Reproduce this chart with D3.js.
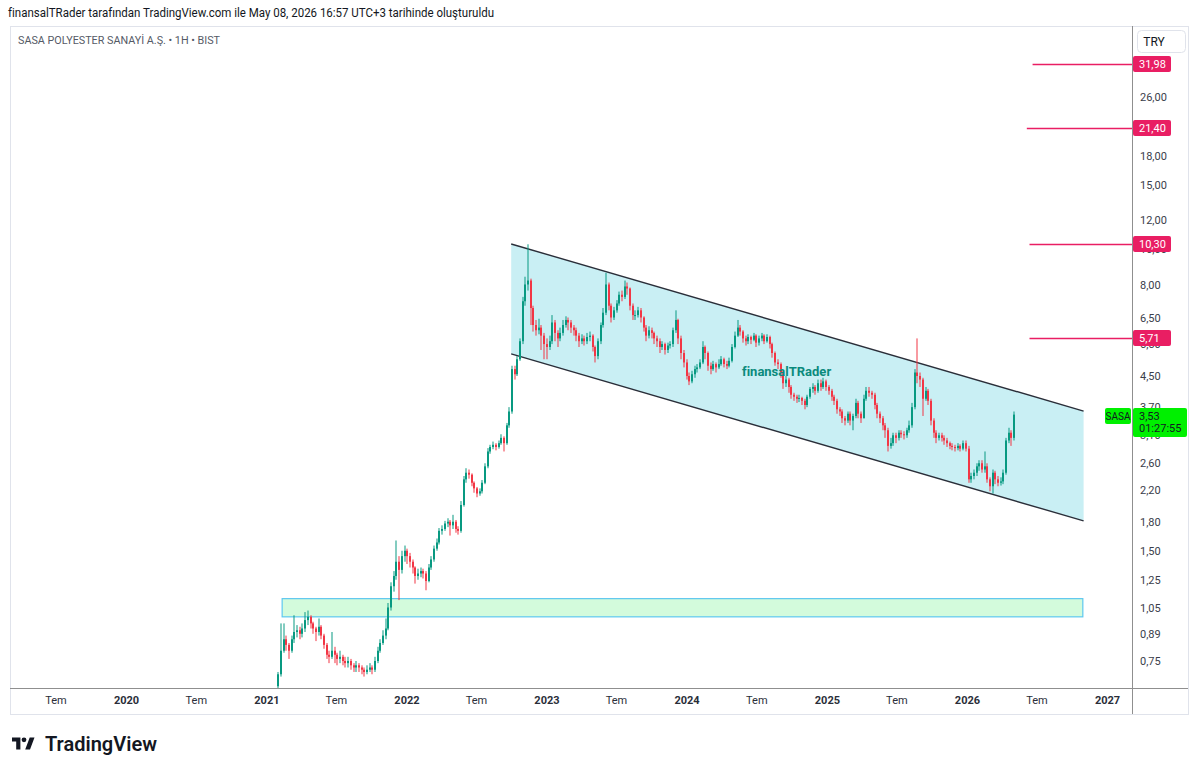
<!DOCTYPE html>
<html lang="tr">
<head>
<meta charset="UTF-8">
<title>SASA 1H BIST</title>
<script src="https://cdn.jsdelivr.net/npm/d3@7"></script>
<style>
  body { margin: 0; background: #fff; }
  svg text { font-family: Roboto, "Liberation Sans", sans-serif; }
</style>
</head>
<body>
<svg id="chart" width="1200" height="771"></svg>
<script>
// weekly candles, [close, high, low]; open = previous close
const firstOpen = 0.64;
const startDate = Date.UTC(2021, 1, 1);

const candles2021 = [
  [0.69,0.70,0.63],[0.80,0.95,0.68],[0.86,0.95,0.79],[0.83,0.88,0.80],[0.80,0.84,0.76],
  [0.86,0.88,0.79],[0.90,1.00,0.84],[0.91,0.94,0.87],[0.89,0.93,0.86],[0.92,0.95,0.87],
  [0.97,1.02,0.90],[0.99,1.03,0.94],[0.95,1.00,0.92],[0.92,0.96,0.89],[0.90,0.93,0.85],
  [0.93,0.98,0.88],[0.88,0.94,0.86],[0.83,0.89,0.81],[0.78,0.84,0.76],[0.77,0.80,0.74],
  [0.80,0.90,0.76],[0.78,0.82,0.74],[0.76,0.79,0.73],[0.77,0.80,0.74],[0.75,0.78,0.73],
  [0.74,0.77,0.72],[0.75,0.77,0.72],[0.73,0.76,0.71],[0.72,0.74,0.70],[0.73,0.75,0.70],
  [0.72,0.74,0.70],[0.71,0.73,0.69],[0.70,0.72,0.68],[0.71,0.73,0.69],[0.72,0.74,0.70],
  [0.71,0.73,0.69],[0.75,0.77,0.70],[0.80,0.82,0.74],[0.84,0.86,0.79],[0.88,0.91,0.83],
  [0.92,0.98,0.86],[1.05,1.08,0.91],[1.20,1.23,1.03],[1.28,1.32,1.16],[1.40,1.60,1.25],
  [1.33,1.45,1.10],[1.45,1.50,1.30],[1.50,1.55,1.40]
];
const candles2022 = [
  [1.45,1.52,1.38],[1.40,1.48,1.35],[1.35,1.42,1.30],[1.28,1.36,1.22],[1.30,1.34,1.25],
  [1.32,1.35,1.27],[1.30,1.34,1.26],[1.24,1.32,1.17],[1.35,1.38,1.23],[1.42,1.45,1.33],
  [1.52,1.55,1.40],[1.58,1.62,1.50],[1.70,1.73,1.56],[1.72,1.76,1.66],[1.78,1.81,1.70],
  [1.80,1.84,1.74],[1.76,1.82,1.65],[1.80,1.88,1.72],[1.72,1.82,1.68],[1.70,1.75,1.66],
  [2.00,2.05,1.68],[2.35,2.40,1.98],[2.45,2.52,2.30],[2.42,2.50,2.36],[2.30,2.44,2.25],
  [2.22,2.32,2.16],[2.15,2.24,2.10],[2.18,2.22,2.12],[2.30,2.34,2.15],[2.55,2.60,2.28],
  [2.80,2.86,2.52],[2.88,2.92,2.76],[2.92,2.98,2.84],[2.88,2.95,2.82],[2.95,3.00,2.85],
  [3.05,3.12,2.92],[2.95,3.08,2.80],[3.30,3.35,2.92],[3.60,3.70,3.25],[4.70,4.80,3.55],
  [4.55,4.80,4.40],[5.00,5.10,4.50],[5.60,5.70,4.95],[7.20,7.40,5.50],[8.00,8.40,7.00],
  [8.20,10.30,7.70],[6.90,8.30,6.20],[6.20,7.00,5.95],[6.00,6.40,5.80],[6.10,6.45,5.85],
  [5.80,6.20,5.30],[5.50,5.90,5.00]
];
const candles2023 = [
  [5.40,5.70,5.00],[5.60,5.80,5.30],[6.30,6.60,5.50],[5.90,6.40,5.60],[5.70,6.00,5.40],
  [5.90,6.10,5.60],[6.20,6.40,5.80],[6.40,6.55,6.10],[6.30,6.50,6.00],[6.10,6.40,5.90],
  [6.00,6.20,5.80],[5.80,6.10,5.60],[5.60,5.90,5.40],[5.70,5.85,5.50],[5.60,5.80,5.45],
  [5.75,5.90,5.50],[5.80,5.95,5.60],[5.40,5.85,5.25],[5.10,5.45,4.90],[5.60,5.70,5.00],
  [6.20,6.30,5.50],[6.70,6.90,6.10],[8.00,8.60,6.60],[7.00,8.10,6.80],[6.50,7.10,6.30],
  [6.80,6.95,6.40],[7.10,7.25,6.70],[7.50,7.65,7.00],[7.40,7.70,7.20],[7.90,8.20,7.30],
  [7.80,8.10,7.50],[7.00,7.85,6.80],[6.60,7.10,6.40],[6.60,6.80,6.40],[6.80,6.95,6.50],
  [6.50,6.90,6.30],[6.10,6.55,5.95],[5.80,6.20,5.60],[6.00,6.15,5.70],[5.90,6.10,5.70],
  [5.70,5.95,5.50],[5.60,5.80,5.40],[5.40,5.70,5.20],[5.50,5.60,5.30],[5.30,5.55,5.15],
  [5.45,5.55,5.20],[5.50,5.60,5.35],[6.00,6.10,5.40],[6.40,6.80,5.90],[5.70,6.45,5.50],
  [5.20,5.80,5.00],[4.90,5.30,4.75]
];
const candles2024 = [
  [4.50,5.00,4.40],[4.35,4.60,4.25],[4.55,4.65,4.30],[4.70,4.80,4.45],[4.75,4.85,4.60],
  [4.90,5.00,4.70],[5.40,5.60,4.85],[5.20,5.45,5.00],[4.80,5.25,4.65],[4.70,4.90,4.55],
  [4.85,4.95,4.65],[4.75,4.90,4.60],[4.85,5.00,4.70],[5.00,5.10,4.80],[4.85,5.05,4.75],
  [4.80,4.95,4.70],[4.95,5.05,4.75],[5.40,5.50,4.90],[5.80,5.95,5.35],[6.10,6.40,5.75],
  [5.95,6.20,5.80],[5.70,6.00,5.55],[5.60,5.80,5.45],[5.75,5.85,5.50],[5.65,5.80,5.50],
  [5.80,5.90,5.60],[5.55,5.85,5.40],[5.70,5.80,5.45],[5.80,5.90,5.60],[5.60,5.85,5.50],
  [5.75,5.85,5.55],[5.50,5.80,5.35],[5.20,5.55,5.05],[4.90,5.25,4.80],[4.85,5.00,4.70],
  [4.60,4.90,4.45],[4.30,4.65,4.15],[4.40,4.50,4.20],[4.20,4.45,4.05],[4.00,4.25,3.90],
  [3.95,4.05,3.85],[3.90,4.00,3.80],[3.92,4.00,3.82],[3.85,3.95,3.75],[3.75,3.90,3.65],
  [3.95,4.00,3.70],[4.15,4.20,3.90],[4.20,4.30,4.05],[4.10,4.25,4.00],[4.30,4.40,4.05],
  [4.20,4.40,4.10],[4.35,4.45,4.15]
];
const candles2025 = [
  [4.20,4.40,4.10],[4.10,4.25,4.00],[3.95,4.15,3.85],[3.85,4.00,3.75],[3.65,3.90,3.55],
  [3.60,3.70,3.50],[3.45,3.65,3.35],[3.40,3.50,3.30],[3.55,3.60,3.35],[3.40,3.60,3.30],
  [3.50,3.55,3.20],[3.80,3.90,3.45],[3.55,3.85,3.45],[3.45,3.60,3.35],[3.90,4.00,3.45],
  [4.10,4.20,3.85],[4.05,4.20,3.95],[4.00,4.10,3.90],[3.75,4.05,3.65],[3.55,3.80,3.45],
  [3.45,3.60,3.35],[3.30,3.50,3.20],[3.20,3.35,3.05],[2.90,3.25,2.80],[2.95,3.05,2.85],
  [3.10,3.15,2.90],[3.05,3.15,2.95],[3.15,3.20,3.00],[3.12,3.20,3.05],[3.10,3.18,3.02],
  [3.20,3.25,3.05],[3.30,3.40,3.15],[3.70,3.80,3.25],[4.60,4.70,3.65],[4.50,5.70,4.30],
  [4.40,4.60,4.20],[3.90,4.45,3.50],[4.10,4.20,3.85],[3.85,4.15,3.75],[3.40,3.90,3.30],
  [3.15,3.45,3.05],[3.05,3.20,2.95],[3.10,3.15,3.00],[3.05,3.15,2.98],[3.00,3.10,2.92],
  [2.95,3.05,2.88],[2.90,2.98,2.84],[2.88,2.95,2.82],[2.86,2.92,2.80],[2.90,2.95,2.82],
  [2.85,2.93,2.80],[2.95,3.00,2.82]
];
const candles2026 = [
  [2.85,3.00,2.80],[2.35,2.90,2.30],[2.40,2.45,2.30],[2.45,2.50,2.35],[2.55,2.60,2.40],
  [2.60,2.65,2.48],[2.50,2.65,2.45],[2.55,2.80,2.45],[2.35,2.60,2.30],[2.25,2.38,2.18],
  [2.45,2.50,2.15],[2.35,2.48,2.28],[2.30,2.40,2.25],[2.32,2.38,2.26],[2.45,2.50,2.28],
  [3.00,3.05,2.42],[3.15,3.25,2.95],[3.05,3.20,2.90],[3.53,3.60,3.00]
];

const priceTicks = [26, 22, 18, 15, 12, 10, 8, 6.5, 5.5, 4.5, 3.7, 3.1, 2.6, 2.2, 1.8, 1.5, 1.25, 1.05, 0.89, 0.75];
const yearTicks = [2020, 2021, 2022, 2023, 2024, 2025, 2026, 2027];

const levels = [31.98, 21.40, 10.30, 5.71];
const levelStarts = ["2026-06-21", "2026-06-06", "2026-06-13", "2026-06-13"];

const channelDates = ["2022-10-01", "2026-11-01"];
const channelTop = [10.32, 3.61];
const channelBottom = [5.17, 1.81];

const zoneDates = ["2021-02-11", "2026-10-30"];
const zonePrices = [0.99, 1.11];

const lastPrice = 3.53;
const countdown = "01:27:55";

// ---------------------------------------------------------------
const svg = d3.select("#chart");
const frame = {left: 10, top: 26, right: 1188, bottom: 714};
const plotRight = 1132, plotBottom = 688;

const x = d3.scaleUtc()
  .domain([Date.UTC(2020, 0, 1), Date.UTC(2027, 0, 1)])
  .range([126, 1107]);
const y = d3.scaleLog().domain([26, 0.75]).range([97, 661]);
const fmt = v => d3.format(".2f")(v).replace(".", ",");
const day = s => new Date(s + "T00:00:00Z");

const upColor = "#089981", downColor = "#f23645", levelColor = "#e91e63";

svg.append("rect").attr("width", 1200).attr("height", 771).attr("fill", "#fff");

// header
svg.append("text").attr("x", 8).attr("y", 17)
  .attr("font-size", 12).attr("fill", "#131722")
  .attr("textLength", 486).attr("lengthAdjust", "spacingAndGlyphs")
  .text("finansalTRader tarafından TradingView.com ile May 08, 2026 16:57 UTC+3 tarihinde oluşturuldu");

// frame
svg.append("rect")
  .attr("x", frame.left + 0.5).attr("y", frame.top + 0.5)
  .attr("width", frame.right - frame.left).attr("height", frame.bottom - frame.top)
  .attr("fill", "#fff").attr("stroke", "#e0e3eb");

svg.append("defs").append("clipPath").attr("id", "plot")
  .append("rect").attr("x", frame.left).attr("y", frame.top)
  .attr("width", plotRight - frame.left).attr("height", plotBottom - frame.top);

const plot = svg.append("g").attr("clip-path", "url(#plot)");

// support zone
plot.append("rect")
  .attr("x", x(day(zoneDates[0]))).attr("y", y(zonePrices[1]))
  .attr("width", x(day(zoneDates[1])) - x(day(zoneDates[0])))
  .attr("height", y(zonePrices[0]) - y(zonePrices[1]))
  .attr("fill", "#d3fbdc").attr("stroke", "#5ec8ef").attr("stroke-width", 1.2);

// descending channel
const cx0 = x(day(channelDates[0])), cx1 = x(day(channelDates[1]));
plot.append("path")
  .attr("d", d3.line()([[cx0, y(channelTop[0])], [cx1, y(channelTop[1])],
                        [cx1, y(channelBottom[1])], [cx0, y(channelBottom[0])]]) + "Z")
  .attr("fill", "#c9eff4");
[channelTop, channelBottom].forEach(p => {
  plot.append("line")
    .attr("x1", cx0).attr("y1", y(p[0])).attr("x2", cx1).attr("y2", y(p[1]))
    .attr("stroke", "#2a2e39").attr("stroke-width", 1.4);
});

// candles
const raw = [].concat(candles2021, candles2022, candles2023, candles2024, candles2025, candles2026);
const candles = raw.map((d, i) => {
  const open = i === 0 ? firstOpen : raw[i - 1][0];
  const close = d[0];
  return {
    date: d3.utcWeek.offset(new Date(startDate), i),
    open, close,
    high: Math.max(d[1], open, close),
    low: Math.min(d[2], open, close)
  };
});

const cg = plot.append("g");
cg.selectAll("rect.wick").data(candles).join("rect")
  .attr("class", "wick")
  .attr("x", d => Math.round(x(d.date)) - 0.5)
  .attr("y", d => y(d.high))
  .attr("width", 1)
  .attr("height", d => Math.max(1, y(d.low) - y(d.high)))
  .attr("fill", d => d.close >= d.open ? upColor : downColor);
cg.selectAll("rect.body").data(candles).join("rect")
  .attr("class", "body")
  .attr("x", d => Math.round(x(d.date)) - 1)
  .attr("y", d => y(Math.max(d.open, d.close)))
  .attr("width", 2)
  .attr("height", d => Math.max(1, Math.abs(y(d.open) - y(d.close))))
  .attr("fill", d => d.close >= d.open ? upColor : downColor);

// watermark text
plot.append("text").attr("x", 742).attr("y", 376)
  .attr("font-size", 13).attr("font-weight", 700).attr("fill", "#0b8a7c")
  .text("finansalTRader");

// horizontal levels
levels.forEach((v, i) => {
  plot.append("line")
    .attr("x1", x(day(levelStarts[i]))).attr("x2", plotRight)
    .attr("y1", Math.round(y(v)) + 0.5).attr("y2", Math.round(y(v)) + 0.5)
    .attr("stroke", levelColor).attr("stroke-width", 1.5);
});

// axes lines
svg.append("line").attr("x1", plotRight + 0.5).attr("x2", plotRight + 0.5)
  .attr("y1", frame.top).attr("y2", frame.bottom).attr("stroke", "#8f8f8f");
svg.append("line").attr("x1", frame.left).attr("x2", frame.right)
  .attr("y1", plotBottom + 0.5).attr("y2", plotBottom + 0.5).attr("stroke", "#8f8f8f");

// price axis
svg.append("g")
  .attr("transform", `translate(${plotRight},0)`)
  .call(d3.axisRight(y).tickValues(priceTicks).tickFormat(fmt).tickSize(0).tickPadding(8))
  .call(g => g.select(".domain").remove())
  .call(g => g.selectAll("text").attr("font-size", 11).attr("fill", "#3a3e4a")
    .attr("font-family", "Roboto, sans-serif"));

// time axis
const timeTicks = [];
yearTicks.forEach(yr => {
  timeTicks.push(new Date(Date.UTC(yr - 1, 6, 1)));
  timeTicks.push(new Date(Date.UTC(yr, 0, 1)));
});
svg.append("g")
  .attr("transform", `translate(0,${plotBottom})`)
  .call(d3.axisBottom(x).tickValues(timeTicks)
    .tickFormat(d => d.getUTCMonth() === 0 ? d.getUTCFullYear() : "Tem")
    .tickSize(0).tickPadding(8))
  .call(g => g.select(".domain").remove())
  .call(g => g.selectAll("text").attr("font-size", 11).attr("fill", "#2a2e39")
    .attr("font-family", "Roboto, sans-serif")
    .attr("font-weight", d => d.getUTCMonth() === 0 ? 700 : 400));

// level labels
levels.forEach(v => {
  const ly = Math.round(y(v));
  svg.append("rect").attr("x", plotRight + 1).attr("y", ly - 8)
    .attr("width", 38).attr("height", 16).attr("rx", 2).attr("fill", levelColor);
  svg.append("text").attr("x", plotRight + 7).attr("y", ly + 4)
    .attr("font-size", 11).attr("fill", "#fff").text(fmt(v));
});

// last price label
const py = Math.round(y(lastPrice));
svg.append("rect").attr("x", 1105).attr("y", py - 7).attr("width", 26).attr("height", 16)
  .attr("rx", 2).attr("fill", "#00f000");
svg.append("text").attr("x", 1118).attr("y", py + 5).attr("text-anchor", "middle")
  .attr("font-size", 10).attr("fill", "#131722").text("SASA");
svg.append("rect").attr("x", plotRight + 1).attr("y", py - 7).attr("width", 54).attr("height", 29)
  .attr("rx", 2).attr("fill", "#00f000");
svg.append("text").attr("x", plotRight + 7).attr("y", py + 5)
  .attr("font-size", 11).attr("fill", "#131722").text(fmt(lastPrice));
svg.append("text").attr("x", plotRight + 7).attr("y", py + 17)
  .attr("font-size", 11).attr("fill", "#131722").text(countdown);

// legend
svg.append("text").attr("x", 18).attr("y", 44)
  .attr("font-size", 11).attr("fill", "#555a66")
  .attr("textLength", 202).attr("lengthAdjust", "spacingAndGlyphs")
  .text("SASA POLYESTER SANAYİ A.Ş. • 1H • BIST");

// currency button
svg.append("rect").attr("x", 1137.5).attr("y", 30.5).attr("width", 48).attr("height", 22)
  .attr("rx", 4).attr("fill", "#fff").attr("stroke", "#e0e3eb");
svg.append("text").attr("x", 1154).attr("y", 46).attr("text-anchor", "middle")
  .attr("font-size", 12).attr("fill", "#131722").text("TRY");

// TradingView logo
const logo = svg.append("g").attr("transform", "translate(12,735) scale(0.6)");
logo.append("path").attr("d", "M14 24H7V11H0V4h14v20zM30 24h-8l7.5-20h8L30 24z").attr("fill", "#131722");
logo.append("circle").attr("cx", 20).attr("cy", 8).attr("r", 4).attr("fill", "#131722");
svg.append("text").attr("x", 45).attr("y", 751)
  .attr("font-family", "Inter, Roboto, sans-serif")
  .attr("font-size", 20).attr("font-weight", 600).attr("fill", "#131722")
  .text("TradingView");
</script>
</body>
</html>
